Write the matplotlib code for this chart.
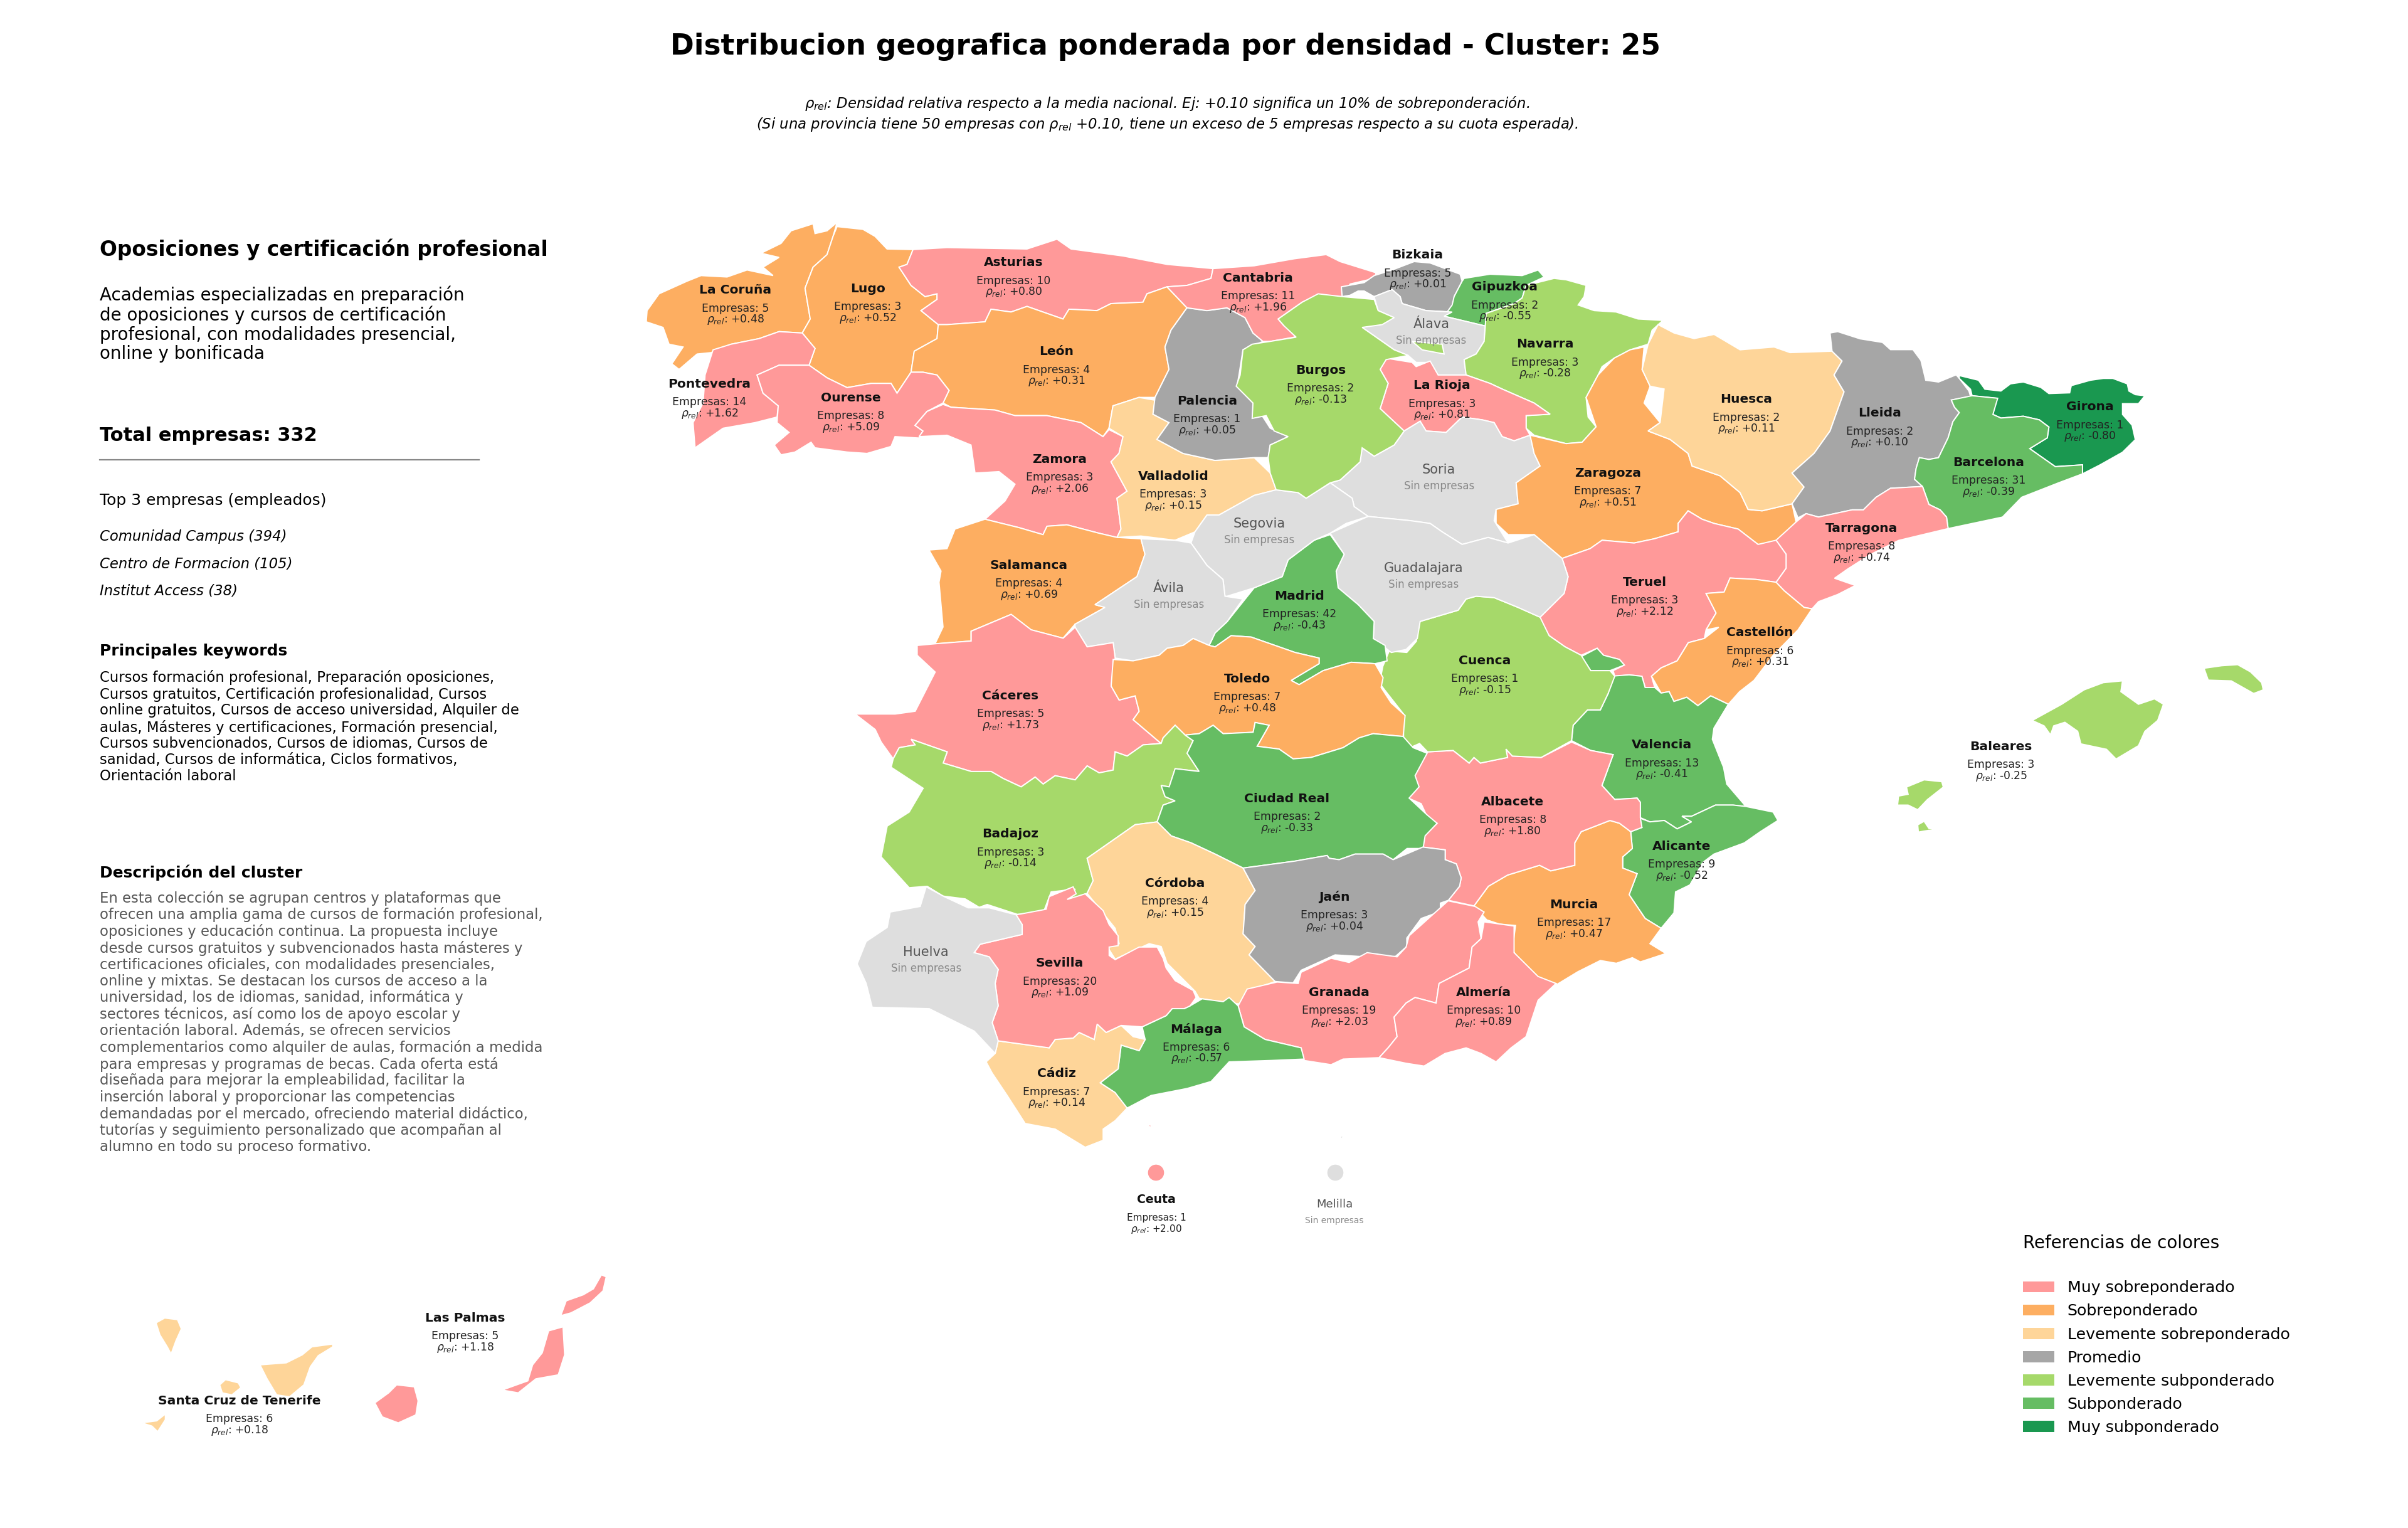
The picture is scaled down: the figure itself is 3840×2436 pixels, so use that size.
import matplotlib
matplotlib.use("Agg")
import matplotlib.pyplot as plt
from matplotlib.patches import Patch

# province table
provincias = ["La Coruña", "Lugo", "Asturias", "Cantabria", "Bizkaia", "Gipuzkoa", "Álava", "Navarra",
              "Pontevedra", "Ourense", "León", "Palencia", "Burgos", "La Rioja", "Huesca", "Lleida",
              "Girona", "Barcelona", "Zamora", "Valladolid", "Soria", "Zaragoza", "Segovia", "Salamanca",
              "Ávila", "Guadalajara", "Madrid", "Teruel", "Tarragona", "Castellón", "Cuenca", "Cáceres",
              "Toledo", "Valencia", "Baleares", "Ciudad Real", "Albacete", "Badajoz", "Alicante", "Córdoba",
              "Jaén", "Murcia", "Huelva", "Sevilla", "Almería", "Granada", "Málaga", "Cádiz",
              "Ceuta", "Melilla", "Las Palmas", "Santa Cruz de Tenerife"]
empresas = [5, 3, 10, 11, 5, 2, None, 3,
            14, 8, 4, 1, 2, 3, 2, 2,
            1, 31, 3, 3, None, 7, None, 4,
            None, None, 42, 3, 8, 6, 1, 5,
            7, 13, 3, 2, 8, 3, 9, 4,
            3, 17, None, 20, 10, 19, 6, 7,
            1, None, 5, 6]
rho_rel = [0.48, 0.52, 0.80, 1.96, 0.01, -0.55, None, -0.28,
           1.62, 5.09, 0.31, 0.05, -0.13, 0.81, 0.11, 0.10,
           -0.80, -0.39, 2.06, 0.15, None, 0.51, None, 0.69,
           None, None, -0.43, 2.12, 0.74, 0.31, -0.15, 1.73,
           0.48, -0.41, -0.25, -0.33, 1.80, -0.14, -0.52, 0.15,
           0.04, 0.47, None, 1.09, 0.89, 2.03, -0.57, 0.14,
           2.00, None, 1.18, 0.18]

clases = ["Muy sobreponderado", "Sobreponderado", "Levemente sobreponderado", "Promedio",
          "Levemente subponderado", "Subponderado", "Muy subponderado"]
colores = ["#FF9999", "#FDAE61", "#FED599", "#A6A6A6", "#A6D96A", "#66BD63", "#1A9850"]
limites = [0.7, 0.3, 0.105, -0.1, -0.3, -0.6]
SIN_DATOS = "#DEDEDE"

top_empresas = ["Comunidad Campus (394)", "Centro de Formacion (105)", "Institut Access (38)"]
keywords = ("Cursos formación profesional, Preparación oposiciones,\nCursos gratuitos, Certificación profesionalidad, Cursos\n"
            "online gratuitos, Cursos de acceso universidad, Alquiler de\naulas, Másteres y certificaciones, Formación presencial,\n"
            "Cursos subvencionados, Cursos de idiomas, Cursos de\nsanidad, Cursos de informática, Ciclos formativos,\nOrientación laboral")
descripcion = ("En esta colección se agrupan centros y plataformas que\nofrecen una amplia gama de cursos de formación profesional,\n"
               "oposiciones y educación continua. La propuesta incluye\ndesde cursos gratuitos y subvencionados hasta másteres y\n"
               "certificaciones oficiales, con modalidades presenciales,\nonline y mixtas. Se destacan los cursos de acceso a la\n"
               "universidad, los de idiomas, sanidad, informática y\nsectores técnicos, así como los de apoyo escolar y\n"
               "orientación laboral. Además, se ofrecen servicios\ncomplementarios como alquiler de aulas, formación a medida\n"
               "para empresas y programas de becas. Cada oferta está\ndiseñada para mejorar la empleabilidad, facilitar la\n"
               "inserción laboral y proporcionar las competencias\ndemandadas por el mercado, ofreciendo material didáctico,\n"
               "tutorías y seguimiento personalizado que acompañan al\nalumno en todo su proceso formativo.")

MARCOS = {"A": (1000, 330, 1000 / 1568, 700 / 1568), "B": (2000, 330, 1000 / 1568, 700 / 1568),
          "C": (2900, 500, 800 / 1568, 900 / 1568), "D": (1300, 1000, 1000 / 1568, 700 / 1568),
          "E": (2200, 1000, 800 / 1568, 700 / 1568), "F": (1300, 1300, 1500 / 1568, 700 / 1568),
          "G": (130, 1350, 800 / 1568, 1000 / 1568)}

contornos = {
    "La Coruña": [["A", (525,55),(515,105),(500,170),(465,215),(445,290),(458,400),(438,450),(380,445),(330,470),(260,490),(210,520),(175,525),(130,580),(112,560),(140,500),(105,490),(90,430),(48,410),(50,370),(80,310),(150,265),(185,245),(250,250),(300,225),(365,245),(340,215),(380,180),(335,165),(385,130),(410,85),(465,60),(470,95),(500,85)]],
    "Lugo": [["A", (525,70),(590,80),(620,105),(650,150),(715,152),(700,205),(680,215),(710,280),(745,320),(775,310),(775,330),(735,370),(778,420),(775,470),(718,515),(710,590),(675,665),(660,630),(610,630),(550,645),(500,610),(455,565),(470,505),(438,450),(458,400),(445,290),(465,215),(500,170),(515,105)]],
    "Asturias": [["A", (715,152),(800,145),(1000,150),(1075,115),(1110,150),(1240,175),(1350,205),(1465,220),(1460,255),(1400,280),(1350,285),(1300,310),(1290,340),(1210,345),(1175,370),(1105,365),(1090,400),(1040,375),(1000,355),(960,375),(910,365),(895,410),(800,420),(778,420),(735,370),(775,330),(775,310),(745,320),(710,280),(680,215),(700,205)]],
    "León": [["A", (800,420),(895,410),(910,365),(960,375),(1000,355),(1040,375),(1090,400),(1105,365),(1175,370),(1210,345),(1290,340),(1300,310),(1350,285),(1400,360),(1360,440),(1345,500),(1355,580),(1320,680),(1280,680),(1215,710),(1205,790),(1190,820),(1135,770),(1050,745),(970,745),(920,725),(810,715),(790,700),(805,655),(775,600),(740,590),(710,590),(718,515),(775,470),(778,420)]],
    "Pontevedra": [["A", (438,450),(470,505),(455,565),(380,565),(325,600),(340,665),(378,710),(375,750),(320,770),(240,790),(170,860),(165,770),(190,700),(195,600),(215,510),(260,490),(330,470),(380,445)]],
    "Ourense": [["A", (455,565),(500,610),(550,645),(610,630),(660,630),(675,665),(710,590),(740,590),(775,600),(805,655),(790,700),(750,730),(720,780),(740,800),(730,825),(670,820),(660,855),(600,880),(550,875),(470,860),(460,840),(420,875),(385,885),(368,850),(405,805),(375,770),(378,710),(340,665),(325,600),(380,565)]],
    "Zamora": [["A", (790,705),(810,715),(920,725),(970,745),(1050,745),(1135,770),(1190,820),(1205,795),(1240,820),(1230,880),(1210,910),(1250,1015),(1225,1040),(1235,1150),(1225,1180),(1180,1165),(1100,1135),(1050,1140),(1040,1170),(980,1145),(895,1115),(945,1050),(970,990),(930,945),(870,950),(860,850),(800,815),(730,820),(740,800),(720,780),(750,730)]],
    "Salamanca": [["A", (895,1115),(980,1145),(1040,1170),(1050,1140),(1100,1135),(1180,1165),(1225,1180),(1285,1185),(1295,1240),(1275,1320),(1170,1420),(1195,1430),(1120,1490),(1090,1540),(1010,1510),(960,1455),(860,1515),(860,1550),(770,1560),(790,1500),(780,1340),(785,1300),(755,1225),(800,1220),(820,1150)]],
    "Valladolid": [["A", (1280,680),(1320,690),(1315,740),(1355,770),(1325,830),(1390,880),(1470,905),(1568,895),(1608,950),(1623,1010),(1568,1030),(1480,1100),(1450,1100),(1420,1160),(1370,1190),(1285,1175),(1225,1180),(1235,1150),(1225,1040),(1250,1015),(1210,910),(1230,880),(1240,820),(1205,790),(1215,710)]],
    "Palencia": [["A", (1400,360),(1450,370),(1500,360),(1545,395),(1565,450),(1590,480),(1540,510),(1530,600),(1525,640),(1565,700),(1590,750),(1608,790),(1653,820),(1608,850),(1603,895),(1568,895),(1470,905),(1390,880),(1325,830),(1355,770),(1315,740),(1320,680),(1355,580),(1345,500),(1360,440)]],
    "Cantabria": [["A", (1465,220),(1568,210),(1668,185),(1748,170),(1783,195),(1873,235),(1868,255),(1808,275),(1788,320),(1718,320),(1688,340),(1628,400),(1643,425),(1673,440),(1668,465),(1608,480),(1590,480),(1565,450),(1545,395),(1500,360),(1450,370),(1400,360),(1350,285),(1400,280),(1460,255)]],
    "Burgos": [["B", (160,310),(220,320),(300,330),(310,370),(350,395),(320,420),(270,430),(310,470),(350,510),(385,530),(330,545),(315,580),(335,630),(315,720),(375,800),(350,850),(300,890),(270,860),(265,910),(215,975),(190,985),(130,1040),(110,1020),(55,1010),(40,950),(35,895),(40,850),(85,820),(50,800),(30,745),(-5,755),(-3,700),(-45,640),(-35,600),(-28,510),(-5,490),(40,480),(105,465),(75,425),(60,400),(120,340)],
               ["B", (395,480),(470,490),(475,525),(420,510)]],
    "Bizkaia": [["B", (220,320),(218,285),(275,270),(300,245),(345,225),(400,195),(440,200),(515,240),(520,265),(500,320),(495,375),(430,370),(370,345),(365,320),(345,295),(300,320),(275,300),(260,300),(240,315)]],
    "Gipuzkoa": [["B", (525,255),(590,240),(670,245),(710,225),(725,250),(680,280),(670,325),(650,345),(580,380),(578,425),(475,390),(495,350),(500,320),(520,265)]],
    "Álava": [["B", (300,320),(345,295),(365,320),(370,345),(430,370),(495,375),(475,390),(578,425),(575,480),(555,525),(525,545),(530,600),(460,600),(440,555),(405,555),(385,530),(350,510),(310,470),(270,430),(300,405),(350,395),(310,370)]],
    "Navarra": [["B", (670,325),(680,280),(750,255),(780,260),(830,280),(825,320),(810,350),(850,370),(905,375),(960,400),(1022,405),(995,440),(985,490),(940,510),(900,540),(870,570),(860,600),(830,680),(835,750),(855,785),(820,840),(780,845),(700,815),(680,790),(680,745),(740,740),(700,700),(620,650),(590,630),(530,600),(525,545),(555,525),(575,480),(578,425),(580,380),(650,345)]],
    "La Rioja": [["B", (330,540),(395,555),(405,570),(440,550),(460,600),(530,600),(590,630),(620,650),(700,700),(740,740),(680,745),(680,790),(690,815),(650,835),(620,820),(600,770),(570,760),(520,750),(480,805),(430,800),(415,765),(375,800),(315,720),(335,630),(315,580)]],
    "Soria": [["B", (375,800),(415,765),(430,800),(480,805),(520,750),(570,760),(600,770),(620,820),(650,835),(690,815),(700,880),(715,925),(655,985),(660,1060),(605,1080),(600,1120),(635,1200),(585,1180),(520,1205),(470,1160),(440,1130),(390,1120),(285,1105),(250,1070),(245,1040),(190,985),(215,975),(265,910),(270,860),(300,890),(350,850)]],
    "Zaragoza": [["B", (975,500),(970,580),(990,640),(975,700),(1015,770),(985,800),(1040,830),(1085,880),(1095,925),(1165,960),(1215,1020),(1235,1080),(1270,1085),(1345,1060),(1355,1125),(1305,1200),(1260,1205),(1210,1150),(1150,1130),(1120,1115),(1085,1085),(1060,1130),(1060,1160),(1000,1185),(950,1200),(870,1190),(840,1220),(770,1255),(700,1170),(635,1170),(605,1130),(605,1080),(660,1060),(655,985),(715,925),(700,880),(690,815),(780,845),(820,840),(855,785),(830,680),(860,600),(900,540),(940,510)]],
    "Huesca": [["B", (1010,420),(1050,450),(1100,470),(1150,455),(1215,510),(1300,500),(1340,520),(1445,515),(1470,550),(1450,600),(1475,660),(1440,800),(1400,880),(1345,950),(1375,1000),(1345,1060),(1270,1085),(1235,1080),(1215,1020),(1165,960),(1095,925),(1085,880),(1040,830),(985,800),(1015,770),(1025,650),(990,640),(970,580),(985,490)]],
    "Lleida": [["C", (60,50),(130,70),(200,80),(225,100),(295,100),(320,130),(335,185),(375,190),(430,170),(440,180),(470,215),(475,230),(415,240),(425,260),(440,275),(420,300),(405,345),(375,400),(345,405),(315,400),(305,430),(300,460),(325,480),(225,485),(180,510),(140,545),(105,545),(0,565),
                "B", (1380,1095),(1360,1110),(1345,1060),(1375,1000),(1345,950),(1400,880),(1440,800),(1475,660),(1450,600),(1470,550),(1445,515),(1440,450)]],
    "Girona": [["C", (440,172),(500,185),(520,210),(570,215),(600,195),(640,190),(695,205),(720,222),(785,220),(790,200),(850,185),(890,180),(920,180),(965,195),(970,215),(990,225),(1020,228),(1000,250),(950,250),(950,280),(980,310),(990,350),(950,385),(880,420),(825,445),(825,420),(740,425),(700,400),(660,375),(715,345),(720,315),(690,295),(640,285),(570,290),(545,280),(555,235),(480,228),(475,210),(440,180)]],
    "Barcelona": [["C", (415,240),(480,228),(560,235),(545,280),(570,290),(640,285),(690,295),(720,315),(715,345),(660,375),(700,400),(740,425),(825,420),(825,445),(750,470),(635,510),(575,565),(405,597),(400,565),(380,545),(345,530),(325,480),(300,460),(305,430),(315,400),(345,405),(375,400),(405,345),(420,300),(440,275),(425,260)]],
    "Tarragona": [["C", (0,565),(105,545),(140,545),(180,510),(225,485),(325,480),(345,530),(380,545),(400,565),(405,597),(320,615),(250,630),(160,670),(90,710),(50,735),(115,755),(60,780),(0,800),
                   "B", (1395,1435),(1375,1430),(1325,1370),(1305,1340),(1330,1290),(1330,1240),(1305,1190),(1355,1125),(1380,1095)]],
    "Teruel": [["B", (770,1255),(840,1220),(870,1190),(950,1200),(1000,1185),(1060,1160),(1060,1130),(1085,1085),(1120,1115),(1150,1130),(1210,1150),(1260,1205),(1305,1190),(1330,1240),(1330,1290),(1305,1340),(1255,1330),(1190,1325),(1175,1375),(1130,1380),(1155,1450),(1130,1510),
                "E", (1015,40),(965,55),(930,120),(880,145),(850,175),(860,215),(830,215),(820,175),(780,170),(735,175),(730,155),(765,135),(750,115),(700,100),(680,75),(630,100),(580,70),(530,30),(510,0),
                "B", (715,1465),(775,1380),(785,1320)]],
    "Castellón": [["B", (1190,1325),(1255,1330),(1305,1340),(1325,1370),(1375,1430),(1395,1435),(1360,1510),
                   "E", (1230,100),(1170,190),(1125,230),(1090,275),(1035,245),(995,280),(960,250),(920,265),(905,230),(880,235),(850,175),(880,145),(930,120),(965,55),(1015,40),(1060,0),
                   "B", (1130,1510),(1155,1450),(1130,1380),(1175,1375)]],
    "Valencia": [["E", (720,175),(780,170),(820,175),(830,215),(860,215),(880,235),(905,230),(920,265),(960,250),(995,280),(1035,245),(1090,275),(1045,360),(1040,400),(1075,500),(1085,560),(1145,640),(1105,635),(1050,635),(975,675),(945,675),(975,695),(930,720),(890,690),(845,695),(815,680),(815,625),(805,610),(735,615),(695,565),(730,455),(660,440),(600,405),(605,350),(650,295),(690,295),(715,235)],
                 ["E", (630,105),(680,75),(700,100),(750,115),(765,135),(720,155),(660,155)]],
    "Alicante": [["E", (1145,640),(1230,660),(1245,690),(1190,730),(1140,770),(1045,810),(1010,840),(970,920),(925,945),(920,1020),(880,1075),(830,1040),(780,955),(805,880),(760,860),(760,820),(790,790),(785,730),(820,715),(810,680),(845,695),(890,690),(930,720),(975,695),(945,675),(975,675),(1050,635),(1105,635)]],
    "Murcia": [["E", (785,730),(790,790),(760,820),(760,860),(805,880),(780,955),(830,1040),(880,1075),(845,1130),(895,1165),(815,1195),(790,1180),(740,1200),(690,1190),(620,1230),(555,1275),(490,1250),(460,1235),(415,1150),(425,1065),(375,1060),(335,1045),(295,995),(340,925),(400,885),(500,850),(535,870),(610,850),(610,770),(630,730),(720,690),(750,700)]],
    "Albacete": [["E", (150,445),(230,440),(280,485),(295,465),(315,485),(400,465),(395,435),(415,460),(505,465),(600,410),(660,440),(730,455),(695,565),(735,615),(805,610),(815,625),(815,680),(820,715),(785,730),(750,700),(720,690),(630,730),(610,770),(610,850),(535,870),(500,850),(400,885),(340,925),(295,995),(215,975),(250,925),(255,895),(240,845),(205,830),(205,795),(135,785),(140,745),(180,700),(150,680),(130,630),(90,610),(120,570),(105,525)]],
    "Cuenca": [["E", (120,0),"B",(415,1480),(510,1440),(530,1400),(555,1390),(600,1395),(660,1430),(715,1465),
                "E", (530,30),(580,70),(630,100),(660,155),(720,155),(735,175),(715,235),(690,295),(650,295),(605,350),(600,405),(505,465),(415,460),(395,435),(400,465),(315,485),(295,465),(280,485),(230,440),(150,445),(125,415),(95,430),(75,395),(75,310),(20,230),(0,200),(10,140),(30,85),(85,90),(115,50)]],
    "Guadalajara": [["B", (190,1165),(285,1105),(390,1120),(440,1130),(470,1160),(520,1205),(585,1180),(635,1200),(700,1170),(770,1255),(785,1320),(775,1380),(715,1465),(660,1430),(600,1395),(555,1390),(530,1400),(510,1440),(415,1480),(408,1541),(380,1580),(343,1591),(298,1541),(300,1480),(260,1420),(210,1360),(205,1300),(225,1240)]],
    "Madrid": [["B", (190,1170),(225,1240),(205,1300),(210,1360),(260,1420),(300,1480),(298,1541),
                "D", (1395,40),(1425,65),(1430,120),(1400,130),(1340,125),(1270,155),(1240,180),(1210,205),(1190,190),(1260,130),(1260,110),(1200,90),(1140,60),(1090,35),(1040,30),(1000,70),(985,65),(1000,20),(1030,-20),
                "B", (0,1360),(70,1320),(85,1260),(150,1190)]],
    "Segovia": [["B", (0,1030),(55,1010),(110,1020),(130,1040),(190,985),(245,1040),(250,1070),(285,1105),(230,1130),(190,1165),(150,1190),(85,1260),(70,1320),(0,1360),(-68,1390),
                 "A", (1495,1390),(1490,1330),(1450,1280),(1410,1200),(1420,1160),(1450,1100),(1480,1100)]],
    "Ávila": [["A", (1285,1185),(1370,1190),(1410,1200),(1450,1280),(1490,1330),(1495,1390),(1540,1400),
               "D", (1030,-20),(1000,20),(985,65),(945,40),(920,65),(880,75),(860,100),(795,120),(750,110),(745,55),(680,70),(650,0),
               "A", (1120,1490),(1195,1430),(1170,1420),(1275,1320),(1295,1240)]],
    "Cáceres": [["D", (255,65),(300,59),(390,49),(390,14),(490,-46),(540,9),(620,39),(650,0),(680,70),(745,55),(750,110),(740,210),(760,260),(800,245),(810,300),(795,330),(865,415),(820,420),(780,460),(750,445),(745,510),(710,520),(680,495),(650,545),(600,530),(570,560),(550,535),(515,570),(470,540),(440,515),(390,515),(320,485),(330,445),(240,400),(250,420),(210,430),(195,470),(165,410),(150,365),(100,310),(200,310),(250,300),(300,160),(255,100)]],
    "Toledo": [["D", (745,115),(795,120),(860,100),(880,75),(920,65),(945,40),(985,65),(1000,70),(1040,30),(1090,35),(1140,60),(1200,90),(1260,110),(1260,130),(1190,190),(1210,205),(1240,180),(1270,155),(1340,125),(1400,130),(1420,180),(1415,215),(1440,270),(1475,315),(1470,390),(1395,380),(1360,395),(1320,430),(1240,465),(1195,470),(1160,435),(1105,425),(1135,350),(1100,340),(1095,375),(1020,380),(995,350),(960,380),(925,385),(900,350),(870,395),(865,415),(795,330),(810,300),(800,245),(760,260),(740,210)]],
    "Badajoz": [["D", (240,400),(330,445),(320,485),(390,515),(440,515),(470,540),(515,570),(550,535),(570,560),(600,530),(650,545),(680,495),(710,520),(745,510),(750,445),(780,460),(820,420),(865,415),(870,395),(900,350),(925,385),(945,405),(930,450),(960,515),(900,505),(885,570),(865,565),(875,605),(900,620),(870,635),(855,695),(800,705),(740,765),(680,825),(695,905),(680,950),(640,970),(650,935),(590,945),(570,1020),(505,1025),(430,990),(410,1000),(375,970),(320,960),(280,925),(235,930),(165,820),(180,710),(235,660),(270,575),(190,500),(195,470),(210,430),(250,420)]],
    "Ciudad Real": [["D", (945,405),(925,385),(960,380),(995,350),(1020,380),(1095,375),(1100,340),(1135,350),(1105,425),(1160,435),(1195,470),(1240,465),(1320,430),(1360,395),(1395,380),(1470,390),(1495,430),(1530,450),(1500,530),(1510,570),(1485,610),(1530,670),(1555,700),(1525,745),(1520,790),(1480,790),(1445,830),(1420,810),(1350,810),(1310,830),(1285,825),(1280,815),(1200,835),(1070,860),(1000,810),(940,770),(890,745),(855,695),(870,635),(900,620),(875,605),(865,565),(885,570),(900,505),(960,515),(930,450)]],
    "Córdoba": [["D", (800,705),(855,695),(890,745),(940,770),(1000,810),(1070,860),(1100,940),(1075,990),(1070,1095),(1100,1140),(1085,1170),(1150,1265),(1100,1290),(1060,1345),(1025,1340),(960,1325),(950,1300),(880,1200),(865,1140),(835,1130),(750,1185),(730,1140),(760,1130),(750,1075),(680,950),(695,905),(680,825),(740,765)]],
    "Jaén": [["D", (1070,860),(1200,835),(1280,815),(1285,825),(1310,830),(1350,810),(1420,810),(1445,830),
              "E", (135,785),(205,795),(205,830),(240,845),(255,895),(250,925),(215,975),(190,985),(190,1015),(130,1040),(85,1110),(85,1140),(50,1175),(0,1180),
              "D", (1300,1170),(1215,1225),(1195,1270),(1150,1265),(1085,1170),(1100,1140),(1070,1095),(1075,990),(1100,940)]],
    "Granada": [["F", (705,680),(720,620),(770,595),(805,600),(810,560),(860,510),(890,525),(920,490),(970,505),(985,470),(990,430),(1055,305),(1100,325),(1115,345),(1105,380),(1110,440),(1095,470),(1090,545),(1040,600),(1035,670),(1000,650),(985,670),(965,720),(970,790),(955,830),(940,865),(880,870),(860,890),(815,875),(810,830),(750,800),(715,755)]],
    "Almería": [["F", (1115,380),(1165,395),(1165,490),(1205,575),(1235,600),(1205,660),(1185,790),(1160,830),(1135,880),(1110,850),(1085,830),(1050,850),(1015,895),(985,885),(940,865),(955,830),(970,790),(965,720),(985,670),(1000,650),(1035,670),(1040,600),(1090,545),(1095,470),(1110,440)]],
    "Málaga": [["F", (625,680),(645,655),(680,665),(690,650),(705,680),(715,755),(750,800),(810,830),(815,870),(760,875),(690,880),(660,950),(620,975),(560,1000),(520,1045),(510,1050),(500,990),(475,955),(505,905),(510,820),(540,840),(550,800),(545,755),(585,715),(595,690),(615,690)]],
    "Cádiz": [["F", (305,805),(390,830),(400,800),(430,795),(440,775),(465,800),(470,745),(485,775),(510,750),(530,790),(550,800),(540,840),(510,820),(505,905),(475,955),(500,990),(520,1045),(500,1090),(480,1120),(480,1160),(450,1185),(400,1120),(350,1100),(320,1000),(295,920),(285,880),(300,850)]],
    "Sevilla": [["F", (335,355),(385,335),(390,290),(430,255),(435,280),(420,300),(450,280),(480,340),(490,390),(505,430),(505,465),(490,470),(490,500),(500,515),(540,470),(570,470),(580,510),(585,545),(600,590),(630,625),(635,650),(625,680),(615,690),(595,690),(585,715),(545,755),(510,750),(485,775),(470,745),(465,800),(440,775),(430,795),(400,800),(390,830),(305,805),(295,740),(305,680),(300,600),(305,550),(290,505),(265,490),(275,460),(345,425),(345,390)]],
    "Huelva": [["F", (185,255),(215,290),(255,330),(290,330),(335,355),(345,390),(345,425),(275,460),(265,490),(290,505),(305,550),(300,600),(305,680),(295,740),(305,805),(300,850),(265,770),(190,690),(95,685),(85,600),(70,530),(85,450),(120,400),(125,345),(175,325)]],
    "Baleares": [["C", (668,1130),(760,1085),(830,1045),(890,1025),(950,1020),(945,1050),(1000,1085),(1050,1070),(1078,1085),(1060,1130),(1020,1160),(1000,1200),(930,1237),(900,1210),(820,1195),(810,1160),(770,1135),(735,1145),(725,1170),(705,1145)],
                 ["C", (1205,985),(1260,978),(1310,975),(1350,995),(1385,1025),(1390,1045),(1360,1055),(1290,1020),(1218,1018)],
                 ["C", (275,1315),(330,1295),(385,1300),(390,1315),(340,1350),(310,1378),(280,1365),(247,1365),(250,1340),(280,1335)],
                 ["C", (310,1420),(330,1410),(345,1430),(378,1437),(345,1435),(312,1440)]],
    "Santa Cruz de Tenerife": [["G", (233,1190),(260,1178),(300,1182),(312,1205),(295,1235),(280,1268),(268,1250),(245,1220)],
                               ["G", (558,1295),(640,1290),(690,1270),(720,1250),(785,1243),(785,1250),(740,1272),(715,1300),(695,1345),(650,1375),(610,1370),(580,1330)],
                               ["G", (432,1345),(450,1332),(490,1340),(498,1352),(470,1370),(440,1365)],
                               ["G", (188,1440),(235,1435),(262,1418),(262,1432),(238,1462),(220,1448)]],
    "Las Palmas": [["G", (917,1390),(960,1365),(985,1345),(1040,1350),(1052,1385),(1045,1420),(990,1440),(940,1425)],
                   ["G", (1315,1358),(1395,1335),(1410,1295),(1440,1265),(1460,1210),(1505,1200),(1510,1270),(1490,1320),(1420,1330),(1365,1365)],
                   ["G", (1498,1172),(1515,1135),(1568,1120),(1600,1105),(1625,1070),(1640,1075),(1630,1110),(1590,1140),(1530,1165)]],
    "Ceuta": [["F", (553,1102),(562,1108),(558,1113)]],
    "Melilla": [["F", (875,1145),(880,1145),(878,1158)]],
}
plazas = {"Ceuta": (1843, 1869), "Melilla": (2129, 1869)}

# label anchors, in units of the 1568 wide preview
ESC = 3840 / 1568
etiquetas = {"La Coruña": (479,189), "Lugo": (565,188), "Asturias": (660,171), "Cantabria": (819,181), "Bizkaia": (923,166),
             "Gipuzkoa": (980,187), "Álava": (932,211), "Navarra": (1006,224), "Pontevedra": (462,250), "Ourense": (554,259),
             "León": (688,229), "Palencia": (786,261), "Burgos": (860,241), "La Rioja": (939,251), "Huesca": (1137,260),
             "Lleida": (1224,269), "Girona": (1361,265), "Barcelona": (1295,301), "Zamora": (690,299), "Valladolid": (764,310),
             "Soria": (937,306), "Zaragoza": (1047,308), "Segovia": (820,341), "Salamanca": (670,368), "Ávila": (761,383),
             "Guadalajara": (927,370), "Madrid": (846,388), "Teruel": (1071,379), "Tarragona": (1212,344), "Castellón": (1146,412),
             "Cuenca": (967,430), "Cáceres": (658,453), "Toledo": (812,442), "Valencia": (1082,485), "Baleares": (1303,486),
             "Ciudad Real": (838,520), "Albacete": (985,522), "Badajoz": (658,543), "Alicante": (1095,551), "Córdoba": (765,575),
             "Jaén": (869,584), "Murcia": (1025,589), "Huelva": (603,620), "Sevilla": (690,627), "Almería": (966,646),
             "Granada": (872,646), "Málaga": (779,670), "Cádiz": (688,699), "Ceuta": (753,781), "Melilla": (869,784),
             "Las Palmas": (303,858), "Santa Cruz de Tenerife": (156,912)}


def a_pixeles(traza):
    """Turn a traced outline into reference pixel coordinates."""
    pts = []
    for p in traza:
        if isinstance(p, str):
            x0, y0, sx, sy = MARCOS[p]
        else:
            pts.append((x0 + p[0] * sx, y0 + p[1] * sy))
    return pts


def color_de(rho):
    if rho is None:
        return SIN_DATOS
    for lim, c in zip(limites, colores):
        if rho > lim:
            return c
    return colores[-1]


fig = plt.figure(figsize=(19.2, 12.18), dpi=200)
ax = fig.add_axes([0, 0, 1, 1])
ax.set_xlim(0, 3840)
ax.set_ylim(2436, 0)
ax.axis("off")

tabla_color = {n: color_de(r) for n, r in zip(provincias, rho_rel)}
# Burgos goes last so the Treviño enclave sits on top of Álava
for nombre in sorted(contornos, key=lambda n: n == "Burgos"):
    for traza in contornos[nombre]:
        xs, ys = zip(*a_pixeles(traza))
        ax.fill(xs, ys, facecolor=tabla_color[nombre], edgecolor="white", linewidth=0.7, zorder=2)
for nombre, (x, y) in plazas.items():
    ax.scatter([x], [y], s=85, color=tabla_color[nombre], linewidths=0, zorder=2)

for nombre, emp, rho in zip(provincias, empresas, rho_rel):
    x, y = etiquetas[nombre]
    x, y = x * ESC, y * ESC
    pequena = nombre in plazas
    if emp is None:
        ax.text(x, y, nombre, ha="center", va="center", fontsize=6.5 if pequena else 7.5, color="#555555", zorder=4)
        ax.text(x, y + 26, "Sin empresas", ha="center", va="center", fontsize=5 if pequena else 6, color="#888888", zorder=4)
    else:
        ax.text(x, y, nombre, ha="center", va="center", fontsize=6.8 if pequena else 7.3, fontweight="bold", color="#111111", zorder=4)
        ax.text(x, y + 29, f"Empresas: {emp}", ha="center", va="center", fontsize=5.5 if pequena else 6.2, color="#222222", zorder=4)
        ax.text(x, y + 47, rf"$\rho_{{rel}}$: {rho:+.2f}", ha="center", va="center", fontsize=5.5 if pequena else 6.2, color="#222222", zorder=4)

# header
ax.text(759 * ESC, 30.5 * ESC, "Distribucion geografica ponderada por densidad - Cluster: 25",
        ha="center", va="center", fontsize=16.4, fontweight="bold")
ax.text(760 * ESC, 74 * ESC,
        "$\\rho_{rel}$: Densidad relativa respecto a la media nacional. Ej: +0.10 significa un 10% de sobreponderación.\n"
        "(Si una provincia tiene 50 empresas con $\\rho_{rel}$ +0.10, tiene un exceso de 5 empresas respecto a su cuota esperada).",
        ha="center", va="center", fontsize=8.2, style="italic", linespacing=1.3)

# left column
xl = 65 * ESC
ax.text(xl, 162.5 * ESC, "Oposiciones y certificación profesional", va="center", fontsize=11.8, fontweight="bold")
ax.text(xl, 211 * ESC, "Academias especializadas en preparación\nde oposiciones y cursos de certificación\n"
        "profesional, con modalidades presencial,\nonline y bonificada", va="center", fontsize=10, linespacing=1.12)
ax.text(xl, 283.5 * ESC, "Total empresas: 332", va="center", fontsize=11, fontweight="bold")
ax.plot([159, 764], [733, 733], color="#888888", linewidth=0.8)
ax.text(xl, 326 * ESC, "Top 3 empresas (empleados)", va="center", fontsize=9)
for yy, t in zip([349.5, 367, 384.5], top_empresas):
    ax.text(xl, yy * ESC, t, va="center", fontsize=8.2, style="italic")
ax.text(xl, 424 * ESC, "Principales keywords", va="center", fontsize=9, fontweight="bold")
ax.text(xl, 473 * ESC, keywords, va="center", fontsize=8.2, linespacing=1.16)
ax.text(xl, 568 * ESC, "Descripción del cluster", va="center", fontsize=9, fontweight="bold")
ax.text(xl, 665.5 * ESC, descripcion, va="center", fontsize=8.2, color="#555555", linespacing=1.15)

# colour legend
handles = [Patch(facecolor=c, edgecolor="none", label=l) for c, l in zip(colores, clases)]
ax.legend(handles=handles, title="Referencias de colores\n", frameon=False, fontsize=9.1, title_fontsize=10,
          labelspacing=0.52, alignment="left", loc="upper left", bbox_to_anchor=(3203 / 3840, 1 - 1945 / 2436))

fig.savefig("out.png", dpi=200, facecolor="white")
